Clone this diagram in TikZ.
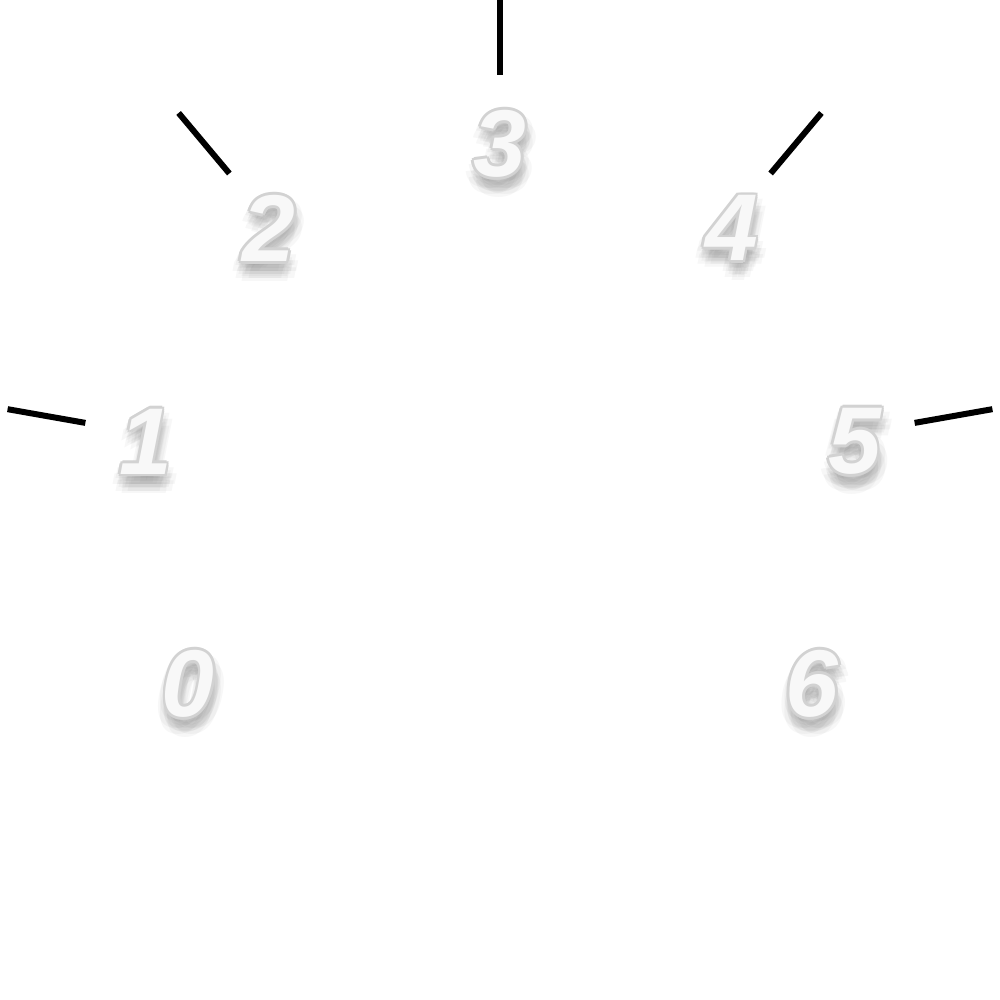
\documentclass[tikz,border=0pt]{standalone}
\usepackage{fontspec}
\setmainfont{Liberation Sans}
\usepackage{tikz}
\usetikzlibrary{calc}
\definecolor{diaedge}{HTML}{D2D2D2}
\definecolor{diashadow}{HTML}{707070}
\definecolor{diaface}{HTML}{F8F8F8}

% one dial figure: name, angle, digit
\newcommand{\dialnum}[3]{%
  \coordinate (#1pos) at ($(#2:3.6)+(0,-0.08)$);
  \foreach \a in {0,45,...,315}{
    \foreach \r in {1.2,2.6}{
      \node[numshadow] at ([shift={(\a:\r pt)}]$(#1pos)+(0.4pt,-3pt)$) {#3};
    }
  }
  \foreach \a in {0,45,...,315}{
    \node[numedge] at ([shift={(\a:0.8pt)}]#1pos) {#3};
  }
  \node[numface] (#1) at (#1pos) {#3};
}

\begin{document}
\begin{tikzpicture}[
    numbase/.style={inner sep=0pt, font=\fontsize{27}{27}\selectfont\bfseries\itshape},
    numshadow/.style={numbase, text=diashadow, text opacity=0.06},
    numedge/.style={numbase, text=diaedge},
    numface/.style={numbase, text=diaface},
    tickmark/.style={line width=0.6mm, black},
]
\useasboundingbox (-5,-5.04) rectangle (5,4.96);

% Ticks
\draw[tickmark] (170:4.21) -- (170:5);
\draw[tickmark] (130:4.21) -- (130:5);
\draw[tickmark] (90:4.21) -- (90:5);
\draw[tickmark] (50:4.21) -- (50:5);
\draw[tickmark] (10:4.21) -- (10:5);

% Figures
\dialnum{n0}{210}{0}
\dialnum{n1}{170}{1}
\dialnum{n2}{130}{2}
\dialnum{n3}{90}{3}
\dialnum{n4}{50}{4}
\dialnum{n5}{10}{5}
\dialnum{n6}{-30}{6}

\end{tikzpicture}
\end{document}
